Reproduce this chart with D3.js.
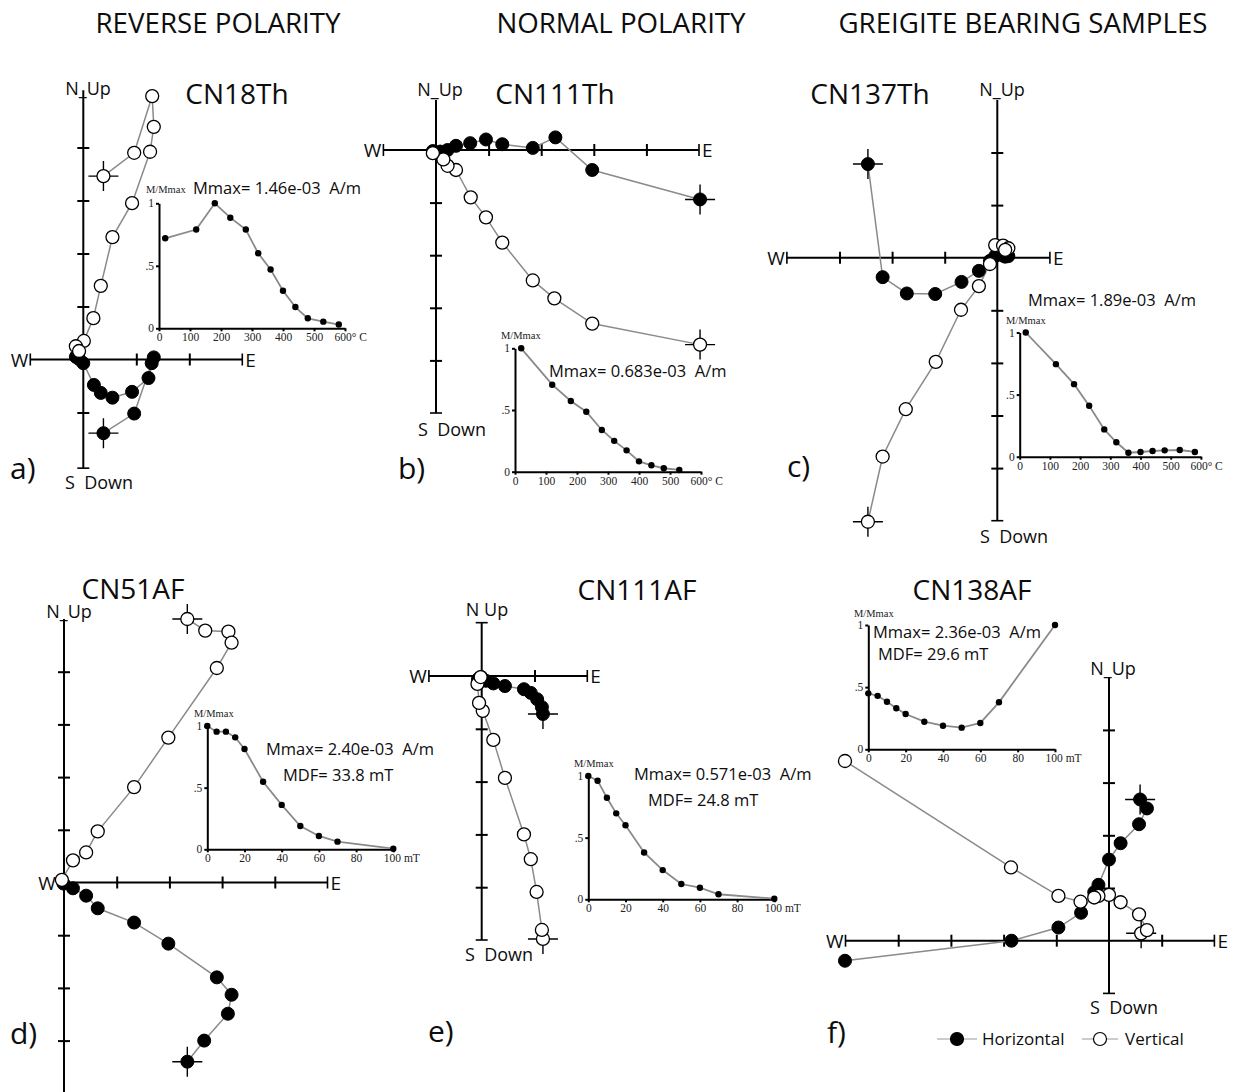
<!DOCTYPE html>
<html>
<head>
<meta charset="utf-8">
<script src="https://cdn.jsdelivr.net/npm/d3@7"></script>
<style>
  body { margin: 0; background: #fff; }
  svg { display: block; }
</style>
</head>
<body>
<svg id="chart" width="1235" height="1092"></svg>
<script>
// ---------------- demagnetisation steps and tick labels ----------------
const thermalSteps = [20, 120, 180, 230, 280, 320, 360, 400, 440, 480, 530, 580];
const afSteps = [0, 5, 10, 15, 20, 30, 40, 50, 60, 70, 100];
const thermalTicks = [0, 100, 200, 300, 400, 500, 600];
const afTicks = [0, 20, 40, 60, 80, 100];
const decayTicks = [0, 0.5, 1];

// ---------------- Zijderveld end-points [E, N|Up], in axis tick units ----------------
// first entry of every list is the NRM step
const cn18thHoriz = [[0.38,-1.39],[0.96,-1.02],[1.29,-0.07],[1.33,0.04],[1.23,-0.35],[0.92,-0.61],[0.55,-0.72],[0.33,-0.63],[0.20,-0.48],[0.00,-0.07],[-0.14,0.05],[-0.08,0.01]];
const cn18thVert  = [[0.38,3.46],[0.96,3.90],[1.30,4.97],[1.33,4.39],[1.26,3.92],[0.92,2.95],[0.55,2.31],[0.33,1.39],[0.19,0.78],[0.01,0.35],[-0.14,0.25],[-0.08,0.16]];

const cn111thHoriz = [[5.02,-0.94],[2.97,-0.38],[2.27,0.24],[1.84,0.04],[1.26,0.11],[0.95,0.20],[0.65,0.13],[0.38,0.08],[0.22,0.00],[0.08,-0.03],[-0.06,-0.02]];
const cn111thVert  = [[5.02,-3.70],[2.97,-3.30],[2.25,-2.82],[1.84,-2.48],[1.26,-1.76],[0.95,-1.28],[0.66,-0.90],[0.38,-0.38],[0.22,-0.30],[0.14,-0.18],[-0.06,-0.06]];

const cn137thHoriz = [[-2.46,1.78],[-2.18,-0.37],[-1.72,-0.68],[-1.18,-0.69],[-0.68,-0.46],[-0.35,-0.25],[-0.14,-0.06],[-0.04,0.03],[0.11,0.04],[0.21,0.03],[0.15,0.02]];
const cn137thVert  = [[-2.46,-5.02],[-2.18,-3.78],[-1.74,-2.88],[-1.17,-1.98],[-0.69,-0.99],[-0.35,-0.54],[-0.14,-0.12],[-0.04,0.24],[0.11,0.23],[0.21,0.18],[0.15,0.15]];

const cn51afHoriz = [[2.34,-3.40],[2.66,-3.00],[3.11,-2.49],[3.18,-2.13],[2.90,-1.80],[1.98,-1.16],[1.33,-0.76],[0.64,-0.49],[0.42,-0.25],[0.17,-0.11],[-0.01,-0.02]];
const cn51afVert  = [[2.34,5.00],[2.68,4.78],[3.12,4.76],[3.18,4.55],[2.90,4.07],[1.98,2.75],[1.33,1.81],[0.64,0.97],[0.42,0.57],[0.17,0.42],[-0.04,0.05]];

const cn111afHoriz = [[1.16,-0.72],[1.14,-0.59],[1.05,-0.44],[0.93,-0.32],[0.80,-0.25],[0.44,-0.19],[0.22,-0.14],[0.08,-0.09],[0.01,-0.06],[-0.07,-0.06],[-0.01,-0.02]];
const cn111afVert  = [[1.16,-4.98],[1.14,-4.81],[1.04,-4.09],[0.93,-3.47],[0.80,-3.00],[0.44,-1.93],[0.22,-1.21],[0.02,-0.66],[-0.05,-0.51],[-0.08,-0.15],[-0.02,-0.02]];

const cn138afHoriz = [[0.59,2.68],[0.72,2.51],[0.57,2.21],[0.22,1.85],[0.00,1.54],[-0.20,1.06],[-0.28,0.92],[-0.53,0.53],[-0.96,0.25],[-1.85,0.00],[-5.01,-0.38]];
const cn138afVert  = [[0.61,0.14],[0.72,0.20],[0.57,0.50],[0.22,0.73],[0.00,0.87],[-0.20,0.85],[-0.28,0.82],[-0.54,0.74],[-0.96,0.85],[-1.86,1.39],[-5.01,3.41]];

// ---------------- normalised intensity decay M/Mmax ----------------
const cn18thDecay  = [0.72, 0.79, 1.00, 0.885, 0.79, 0.60, 0.47, 0.30, 0.17, 0.08, 0.053, 0.03];
const cn111thDecay = [1.00, 0.705, 0.573, 0.486, 0.338, 0.25, 0.173, 0.084, 0.052, 0.028, 0.014];
const cn137thDecay = [1.00, 0.745, 0.584, 0.41, 0.22, 0.116, 0.032, 0.038, 0.046, 0.051, 0.054, 0.038];
const cn51afDecay  = [1.00, 0.954, 0.954, 0.908, 0.813, 0.548, 0.36, 0.189, 0.108, 0.062, 0.005];
const cn111afDecay = [1.00, 0.962, 0.824, 0.697, 0.60, 0.38, 0.237, 0.124, 0.094, 0.041, 0.005];
const cn138afDecay = [0.45, 0.43, 0.383, 0.33, 0.284, 0.222, 0.19, 0.174, 0.212, 0.378, 1.00];

// ---------------- labels ----------------
const columnHeaders = ["REVERSE POLARITY", "NORMAL POLARITY", "GREIGITE BEARING SAMPLES"];
const sampleNames = ["CN18Th", "CN111Th", "CN137Th", "CN51AF", "CN111AF", "CN138AF"];
const panelLetters = ["a)", "b)", "c)", "d)", "e)", "f)"];
const mmaxLabels = ["Mmax= 1.46e-03  A/m", "Mmax= 0.683e-03  A/m", "Mmax= 1.89e-03  A/m",
                    "Mmax= 2.40e-03  A/m", "Mmax= 0.571e-03  A/m", "Mmax= 2.36e-03  A/m"];
const mdfLabels = [null, null, null, "MDF= 33.8 mT", "MDF= 24.8 mT", "MDF= 29.6 mT"];
const legendLabels = ["Horizontal", "Vertical"];

// ---------------- layout ----------------
const SANS = '"Open Sans", "Noto Sans", sans-serif';
const SERIF = '"Liberation Serif", "DejaVu Serif", serif';
const GREY = "#8a8a8a";
const INK = "#0d0d0d";

const layouts = [
  { ox: 83.3, oy: 359.5, u: 53, xr: [-1, 3], yr: [-2.05, 5.08], caps: "lrb",
    title: [237, 104], letter: [10, 479], nUp: [88, 95, "N_Up"], sDown: [65, 489],
    inset: { x0: 159, s: 0.31, y0: 328.3, h: 125, mlab: [146, 193], info: [[193, 194]] } },
  { ox: 436, oy: 150, u: 52.6, xr: [-1, 5], yr: [-5, 0.95], caps: "lrb",
    title: [555, 104], letter: [398, 479], nUp: [440, 96, "N_Up"], sDown: [418, 436],
    inset: { x0: 515, s: 0.31, y0: 471.7, h: 123.4, mlab: [501, 339], info: [[549, 377]] } },
  { ox: 997.3, oy: 257.7, u: 52.6, xr: [-4, 1], yr: [-5, 3], caps: "lrb",
    title: [870, 104], letter: [787, 477], nUp: [1002, 96, "N_Up"], sDown: [980, 543],
    inset: { x0: 1019.7, s: 0.302, y0: 456.7, h: 124.2, mlab: [1006, 324], info: [[1028, 306]] } },
  { ox: 64, oy: 882.5, u: 52.7, xr: [-0.12, 5], yr: [-4.2, 5], caps: "r",
    title: [133, 599], letter: [10, 1044], nUp: [69, 618, "N_Up"], sDown: null,
    inset: { x0: 207.3, s: 1.86, y0: 849.3, h: 123.3, mlab: [194, 717], info: [[266, 755], [283, 781]] } },
  { ox: 481.7, oy: 676, u: 52.8, xr: [-1, 2], yr: [-5, 1.01], caps: "lrtb",
    title: [637, 600], letter: [428, 1042], nUp: [487, 616, "N Up"], sDown: [465, 961],
    inset: { x0: 588.3, s: 1.86, y0: 899.3, h: 123.3, mlab: [574, 767], info: [[634, 780], [648, 806]] } },
  { ox: 1109, oy: 940.7, u: 52.7, xr: [-5, 2], yr: [-1, 5], caps: "lrb",
    title: [972, 600], letter: [827, 1043], nUp: [1113, 675, "N_Up"], sDown: [1090, 1014],
    inset: { x0: 868.3, s: 1.867, y0: 749.3, h: 124.3, mlab: [854, 617], info: [[873, 638], [878, 660]] } }
];

const horizSets = [cn18thHoriz, cn111thHoriz, cn137thHoriz, cn51afHoriz, cn111afHoriz, cn138afHoriz];
const vertSets = [cn18thVert, cn111thVert, cn137thVert, cn51afVert, cn111afVert, cn138afVert];
const decaySets = [cn18thDecay, cn111thDecay, cn137thDecay, cn51afDecay, cn111afDecay, cn138afDecay];
const isThermal = [true, true, true, false, false, false];

const svg = d3.select("#chart");
svg.append("rect").attr("width", 1235).attr("height", 1092).attr("fill", "#fff");

function label(x, y, t, size, anchor) {
  return svg.append("text").attr("x", x).attr("y", y).attr("text-anchor", anchor || "start")
    .attr("font-family", SANS).attr("font-size", size).attr("fill", INK)
    .style("white-space", "pre").text(t);
}

// column headers
const headerX = [218, 621, 1023];
columnHeaders.forEach((t, i) => label(headerX[i], 33, t, 27.7, "middle"));

// ---------- Zijderveld diagram ----------
function drawZij(L, horiz, vert) {
  const g = svg.append("g");
  const x = d3.scaleLinear().domain([0, 1]).range([L.ox, L.ox + L.u]);
  const y = d3.scaleLinear().domain([0, 1]).range([L.oy, L.oy - L.u]);
  const inner = ([a, b]) => d3.range(Math.ceil(a), Math.floor(b) + 1)
    .filter(k => k !== 0 && k - a > 0.3 && b - k > 0.3);
  const T = 6;

  const hAx = g.append("g").attr("transform", `translate(0,${L.oy})`)
    .call(d3.axisBottom(x).tickValues(inner(L.xr)).tickFormat("").tickSize(T).tickSizeOuter(0));
  hAx.select(".domain").attr("d", `M${x(L.xr[0])},0H${x(L.xr[1])}`);
  hAx.selectAll(".tick line").attr("y1", -T);

  const vAx = g.append("g").attr("transform", `translate(${L.ox},0)`)
    .call(d3.axisLeft(y).tickValues(inner(L.yr)).tickFormat("").tickSize(T).tickSizeOuter(0));
  vAx.select(".domain").attr("d", `M0,${y(L.yr[0])}V${y(L.yr[1])}`);
  vAx.selectAll(".tick line").attr("x1", T);

  [hAx, vAx].forEach(a => a.selectAll("path,line").attr("stroke", "#000").attr("stroke-width", 2));

  // end caps
  const caps = [];
  if (L.caps.includes("l")) caps.push([x(L.xr[0]), L.oy - T, x(L.xr[0]), L.oy + T]);
  if (L.caps.includes("r")) caps.push([x(L.xr[1]), L.oy - T, x(L.xr[1]), L.oy + T]);
  if (L.caps.includes("t")) caps.push([L.ox - T, y(L.yr[1]), L.ox + T, y(L.yr[1])]);
  if (L.caps.includes("b")) caps.push([L.ox - T, y(L.yr[0]), L.ox + T, y(L.yr[0])]);
  g.selectAll("line.cap").data(caps).join("line").attr("class", "cap")
    .attr("x1", d => d[0]).attr("y1", d => d[1]).attr("x2", d => d[2]).attr("y2", d => d[3])
    .attr("stroke", "#000").attr("stroke-width", 1.6);

  // axis direction labels
  label(x(L.xr[0]) - 2, L.oy + 7, "W", 19, "end");
  label(x(L.xr[1]) + 3, L.oy + 7, "E", 19, "start");
  label(L.nUp[0], L.nUp[1], L.nUp[2], 18, "middle");
  if (L.sDown) label(L.sDown[0], L.sDown[1], "S  Down", 18, "start");

  // projections
  const line = d3.line().x(d => x(d[0])).y(d => y(d[1]));
  [horiz, vert].forEach(pts => {
    g.append("path").attr("d", line(pts)).attr("fill", "none")
      .attr("stroke", GREY).attr("stroke-width", 1.5);
  });
  // NRM crosshairs
  const C = 15;
  [horiz[0], vert[0]].forEach(p => {
    const cx = x(p[0]), cy = y(p[1]);
    g.append("path").attr("d", `M${cx - C},${cy}H${cx + C}M${cx},${cy - C}V${cy + C}`)
      .attr("stroke", "#000").attr("stroke-width", 1.4);
  });
  g.append("g").selectAll("circle").data(horiz).join("circle")
    .attr("cx", d => x(d[0])).attr("cy", d => y(d[1])).attr("r", 6.5)
    .attr("fill", "#000").attr("stroke", "#000").attr("stroke-width", 1);
  g.append("g").selectAll("circle").data(vert).join("circle")
    .attr("cx", d => x(d[0])).attr("cy", d => y(d[1])).attr("r", 6.5)
    .attr("fill", "#fff").attr("stroke", "#000").attr("stroke-width", 1.3);
}

// ---------- intensity decay inset ----------
function drawInset(I, steps, decay, ticks, lastLabel, lastDx, info) {
  const xmax = ticks[ticks.length - 1];
  const ix = d3.scaleLinear().domain([0, xmax]).range([I.x0, I.x0 + xmax * I.s]);
  const iy = d3.scaleLinear().domain([0, 1]).range([I.y0, I.y0 - I.h]);
  const g = svg.append("g");

  const xa = g.append("g").attr("transform", `translate(0,${I.y0})`)
    .call(d3.axisBottom(ix).tickValues(ticks).tickSize(3).tickSizeOuter(0).tickPadding(2)
      .tickFormat((d, i) => i === ticks.length - 1 ? lastLabel : d));
  xa.selectAll(".tick text").filter((d, i) => i === ticks.length - 1)
    .attr("text-anchor", "start").attr("dx", lastDx);
  const ya = g.append("g").attr("transform", `translate(${I.x0},0)`)
    .call(d3.axisLeft(iy).tickValues(decayTicks).tickSize(3).tickSizeOuter(0).tickPadding(2)
      .tickFormat(d => d === 0.5 ? ".5" : d));
  [xa, ya].forEach(a => {
    a.attr("font-family", SERIF).attr("font-size", 11.5);
    a.selectAll("text").attr("fill", "#222");
    a.selectAll("path,line").attr("stroke", "#000").attr("stroke-width", 2);
  });

  svg.append("text").attr("x", I.mlab[0]).attr("y", I.mlab[1])
    .attr("font-family", SERIF).attr("font-size", 10.5).attr("fill", "#222").text("M/Mmax");

  const pts = steps.map((s, i) => [s, decay[i]]);
  g.append("path").attr("d", d3.line().x(d => ix(d[0])).y(d => iy(d[1]))(pts))
    .attr("fill", "none").attr("stroke", GREY).attr("stroke-width", 1.8);
  g.append("g").selectAll("circle").data(pts).join("circle")
    .attr("cx", d => ix(d[0])).attr("cy", d => iy(d[1])).attr("r", 3.2).attr("fill", "#000");

  info.forEach((t, i) => { if (t) label(I.info[i][0], I.info[i][1], t, 16.5, "start"); });
}

layouts.forEach((L, i) => {
  label(L.title[0], L.title[1], sampleNames[i], 28, "middle");
  label(L.letter[0], L.letter[1], panelLetters[i], 30, "start");
  drawZij(L, horizSets[i], vertSets[i]);
  const th = isThermal[i];
  drawInset(L.inset, th ? thermalSteps.slice(0, decaySets[i].length) : afSteps, decaySets[i],
    th ? thermalTicks : afTicks, th ? "600° C" : "100 mT", th ? -11 : -10,
    [mmaxLabels[i], mdfLabels[i]]);
});

// ---------- legend ----------
const legend = svg.append("g");
const legendItems = [
  { cx: 957, x0: 937, x1: 977, tx: 982, fill: "#000", text: legendLabels[0] },
  { cx: 1100, x0: 1082, x1: 1118, tx: 1125, fill: "#fff", text: legendLabels[1] }
];
legendItems.forEach(d => {
  legend.append("line").attr("x1", d.x0).attr("x2", d.x1).attr("y1", 1039).attr("y2", 1039)
    .attr("stroke", "#bbb").attr("stroke-width", 1.3);
  legend.append("circle").attr("cx", d.cx).attr("cy", 1039).attr("r", 6.5)
    .attr("fill", d.fill).attr("stroke", "#000").attr("stroke-width", 1.2);
  label(d.tx, 1045, d.text, 17, "start");
});
</script>
</body>
</html>
